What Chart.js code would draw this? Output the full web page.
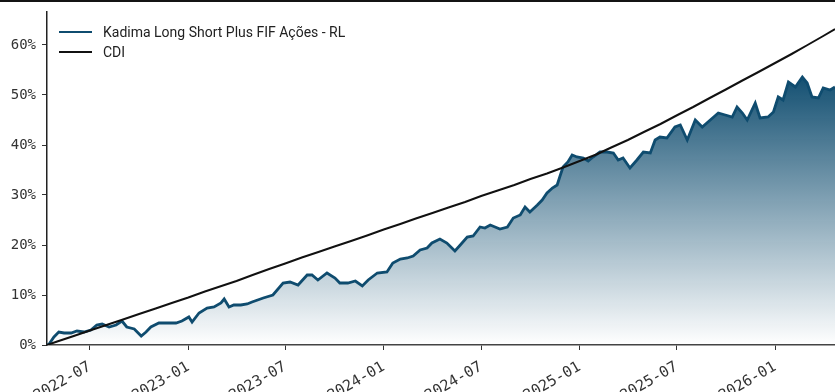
<!DOCTYPE html>
<html>
<head>
<meta charset="utf-8">
<script src="https://cdn.jsdelivr.net/npm/chart.js@4.4.1/dist/chart.umd.min.js"></script>
<style>
  html, body { margin: 0; padding: 0; background: #fff; }
  body { border-top: 2px solid #141414; width: 835px; height: 390px; overflow: hidden; }
  #wrap { position: relative; width: 835px; height: 390px; }
  #legend { position: absolute; left: 59px; top: 20px; font-family: Roboto, sans-serif; font-size: 14px; color: #222; }
  #legend .item { display: flex; align-items: center; height: 20px; }
  #legend .swatch { width: 33px; height: 2px; margin-right: 11px; }
</style>
</head>
<body>
<div id="wrap">
  <canvas id="lineChart" width="835" height="390"></canvas>
  <div id="legend"></div>
</div>
<script>
const fundLabel = 'Kadima Long Short Plus FIF Ações - RL';
const cdiLabel = 'CDI';

const fundDates = [
  '2022-04-12', '2022-04-16', '2022-04-25', '2022-05-04', '2022-05-14', '2022-05-27', '2022-06-07', '2022-06-20',
  '2022-07-03', '2022-07-14', '2022-07-24', '2022-08-06', '2022-08-19', '2022-08-30', '2022-09-08', '2022-09-22',
  '2022-10-05', '2022-10-14', '2022-10-23', '2022-11-07', '2022-11-22', '2022-12-09', '2022-12-20', '2023-01-02',
  '2023-01-08', '2023-01-21', '2023-02-05', '2023-02-18', '2023-03-03', '2023-03-09', '2023-03-18', '2023-03-27',
  '2023-04-09', '2023-04-21', '2023-04-30', '2023-05-21', '2023-06-08', '2023-06-27', '2023-07-10', '2023-07-25',
  '2023-08-11', '2023-08-20', '2023-08-31', '2023-09-17', '2023-10-02', '2023-10-11', '2023-10-26', '2023-11-09',
  '2023-11-22', '2023-12-03', '2023-12-20', '2024-01-07', '2024-01-18', '2024-02-01', '2024-02-14', '2024-02-25',
  '2024-03-09', '2024-03-22', '2024-03-31', '2024-04-15', '2024-04-28', '2024-05-13', '2024-05-23', '2024-06-05',
  '2024-06-16', '2024-06-29', '2024-07-08', '2024-07-18', '2024-07-27', '2024-08-05', '2024-08-19', '2024-08-30',
  '2024-09-12', '2024-09-21', '2024-09-30', '2024-10-14', '2024-10-23', '2024-11-01', '2024-11-11', '2024-11-20',
  '2024-11-26', '2024-12-01', '2024-12-10', '2024-12-18', '2024-12-27', '2025-01-08', '2025-01-17', '2025-01-26',
  '2025-02-08', '2025-02-21', '2025-03-05', '2025-03-14', '2025-03-23', '2025-04-05', '2025-04-18', '2025-04-30',
  '2025-05-13', '2025-05-22', '2025-05-31', '2025-06-13', '2025-06-28', '2025-07-08', '2025-07-21', '2025-08-05',
  '2025-08-18', '2025-09-02', '2025-09-17', '2025-09-30', '2025-10-13', '2025-10-22', '2025-11-01', '2025-11-10',
  '2025-11-25', '2025-12-04', '2025-12-19', '2025-12-29', '2026-01-07', '2026-01-16', '2026-01-26', '2026-02-08',
  '2026-02-21', '2026-03-02', '2026-03-11', '2026-03-23', '2026-04-01', '2026-04-14', '2026-04-23'
];
const fundValues = [
  0.0, 0.2, 1.6, 2.6, 2.4, 2.4, 2.8, 2.6,
  3.0, 4.0, 4.2, 3.6, 4.0, 4.8, 3.6, 3.2,
  1.8, 2.6, 3.6, 4.4, 4.4, 4.4, 4.8, 5.6,
  4.6, 6.4, 7.4, 7.6, 8.4, 9.2, 7.6, 8.0,
  8.0, 8.2, 8.6, 9.4, 10.0, 12.4, 12.6, 12.0,
  14.0, 14.0, 13.0, 14.4, 13.4, 12.4, 12.4, 12.8,
  11.8, 13.0, 14.4, 14.6, 16.4, 17.2, 17.4, 17.8,
  19.0, 19.4, 20.4, 21.2, 20.4, 18.8, 20.0, 21.6,
  21.8, 23.6, 23.4, 24.0, 23.6, 23.2, 23.6, 25.4,
  26.0, 27.6, 26.6, 28.0, 29.0, 30.4, 31.4, 32.0,
  34.0, 35.6, 36.6, 38.0, 37.6, 37.4, 36.8, 37.6,
  38.6, 38.6, 38.4, 37.0, 37.4, 35.4, 37.0, 38.6,
  38.4, 41.0, 41.6, 41.4, 43.6, 44.0, 41.0, 45.0,
  43.6, 45.0, 46.4, 46.0, 45.6, 47.6, 46.4, 45.0,
  48.4, 45.4, 45.6, 46.6, 49.6, 49.0, 52.6, 51.6,
  53.6, 52.4, 49.6, 49.4, 51.4, 51.0, 51.6
];

const cdiDates = [
  '2022-04-12', '2022-05-01', '2022-06-01', '2022-07-01', '2022-08-01', '2022-09-01', '2022-10-01', '2022-11-01',
  '2022-12-01', '2023-01-01', '2023-02-01', '2023-03-01', '2023-04-01', '2023-05-01', '2023-06-01', '2023-07-01',
  '2023-08-01', '2023-09-01', '2023-10-01', '2023-11-01', '2023-12-01', '2024-01-01', '2024-02-01', '2024-03-01',
  '2024-04-01', '2024-05-01', '2024-06-01', '2024-07-01', '2024-08-01', '2024-09-01', '2024-10-01', '2024-11-01',
  '2024-12-01', '2025-01-01', '2025-02-01', '2025-03-01', '2025-04-01', '2025-05-01', '2025-06-01', '2025-07-01',
  '2025-08-01', '2025-09-01', '2025-10-01', '2025-11-01', '2025-12-01', '2026-01-01', '2026-02-01', '2026-03-01',
  '2026-04-01', '2026-04-23'
];
const cdiValues = [
  0.0, 0.7, 1.8, 2.9, 4.0, 5.1, 6.2, 7.3,
  8.4, 9.5, 10.7, 11.7, 12.8, 14.0, 15.2, 16.3,
  17.5, 18.6, 19.7, 20.8, 21.9, 23.1, 24.2, 25.3,
  26.4, 27.5, 28.6, 29.8, 30.9, 32.0, 33.2, 34.3,
  35.5, 36.8, 38.1, 39.5, 41.0, 42.6, 44.2, 45.9,
  47.6, 49.4, 51.1, 52.9, 54.6, 56.4, 58.2, 59.9,
  61.8, 63.2
];

const xTickLabels = ['2022-07', '2023-01', '2023-07', '2024-01', '2024-07', '2025-01', '2025-07', '2026-01'];
const yTicks = [0, 10, 20, 30, 40, 50, 60];
const xStart = '2022-04-12';
const xEnd = '2026-04-23';
const yMax = 66.6;

const fundColor = '#0f4c6f';
const cdiColor = '#111111';
const axisColor = '#333333';

// dates are plotted as day numbers on a linear axis
function toDay(s) {
  return Date.parse(s + 'T00:00:00Z') / 86400000;
}
function dayToMonth(v) {
  return new Date(Math.round(v) * 86400000).toISOString().slice(0, 7);
}

const fundPoints = fundDates.map((d, i) => ({ x: toDay(d), y: fundValues[i] }));
const cdiPoints = cdiDates.map((d, i) => ({ x: toDay(d), y: cdiValues[i] }));

function fundGradient(context) {
  const chart = context.chart;
  const area = chart.chartArea;
  if (!area) return 'rgba(15,76,111,0.5)';
  const top = chart.scales.y.getPixelForValue(Math.max(...fundValues));
  const g = chart.ctx.createLinearGradient(0, top, 0, area.bottom);
  g.addColorStop(0, 'rgba(20,80,114,1)');
  g.addColorStop(1, 'rgba(20,80,114,0)');
  return g;
}

const lineChart = document.getElementById('lineChart');
const chart = new Chart(lineChart, {
  type: 'line',
  data: {
    datasets: [
      {
        label: fundLabel,
        data: fundPoints,
        borderColor: fundColor,
        backgroundColor: fundGradient,
        borderWidth: 2.8,
        fill: 'origin',
        pointRadius: 0,
        tension: 0,
        order: 1
      },
      {
        label: cdiLabel,
        data: cdiPoints,
        borderColor: cdiColor,
        borderWidth: 2,
        fill: false,
        pointRadius: 0,
        tension: 0,
        order: 0
      }
    ]
  },
  options: {
    responsive: false,
    animation: false,
    devicePixelRatio: 1,
    layout: {
      padding: { top: 10, left: 0, right: 0, bottom: 0 }
    },
    plugins: {
      legend: { display: false },
      tooltip: { enabled: false }
    },
    scales: {
      x: {
        type: 'linear',
        min: toDay(xStart),
        max: toDay(xEnd),
        afterBuildTicks: function (scale) {
          scale.ticks = xTickLabels.map(l => ({ value: toDay(l + '-01') }));
        },
        afterFit: function (scale) {
          scale.height = 47;
          scale.paddingLeft = 0;
          scale.paddingRight = 0;
        },
        grid: {
          drawOnChartArea: false,
          drawTicks: true,
          tickLength: 5,
          color: axisColor
        },
        border: { display: true, color: '#444', width: 1.5 },
        ticks: {
          autoSkip: false,
          minRotation: 30,
          maxRotation: 30,
          padding: 8,
          color: '#333',
          font: { family: 'DejaVu Sans Mono', size: 15 },
          callback: function (value) {
            return dayToMonth(value);
          }
        }
      },
      y: {
        min: 0,
        max: yMax,
        afterBuildTicks: function (scale) {
          scale.ticks = yTicks.map(v => ({ value: v }));
        },
        afterFit: function (scale) {
          scale.width = 47;
          scale.paddingTop = 0;
          scale.paddingBottom = 0;
        },
        grid: {
          drawOnChartArea: false,
          drawTicks: true,
          tickLength: 5,
          color: axisColor
        },
        border: { display: true, color: '#222', width: 1.5 },
        ticks: {
          padding: 6,
          color: '#333',
          font: { family: 'DejaVu Sans Mono', size: 14 },
          callback: function (value) {
            return value + '%';
          }
        }
      }
    }
  }
});

// legend drawn as html in the top-left corner of the plot
const legend = document.getElementById('legend');
chart.data.datasets.forEach(function (ds) {
  const item = document.createElement('div');
  item.className = 'item';
  const swatch = document.createElement('span');
  swatch.className = 'swatch';
  swatch.style.background = ds.borderColor;
  const text = document.createElement('span');
  text.textContent = ds.label;
  item.appendChild(swatch);
  item.appendChild(text);
  legend.appendChild(item);
});
</script>
</body>
</html>
